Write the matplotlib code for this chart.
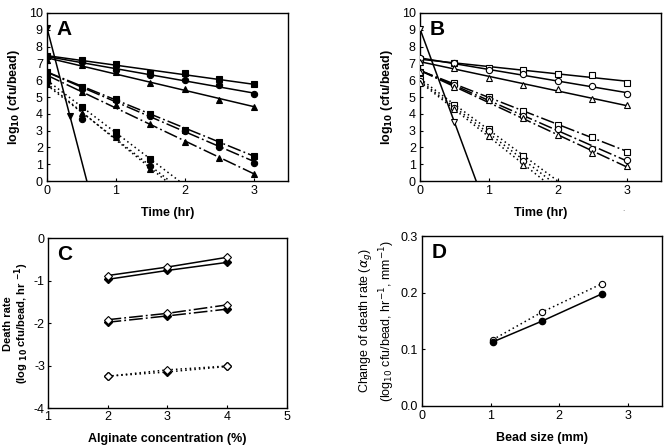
import numpy as np
import matplotlib
matplotlib.use("Agg")
import matplotlib.pyplot as plt

plt.rcParams["font.family"] = ["Liberation Sans", "DejaVu Sans"]
plt.rcParams["font.size"] = 9
plt.rcParams["axes.unicode_minus"] = False

t = [0, 0.5, 1, 1.5, 2, 2.5, 3]
t_short = [0, 0.5, 1, 1.5]

# panel A (filled markers)
a_solid = {"s": [7.45, 7.2, 6.95, 6.45, 6.4, 6.05, 5.75],
           "o": [7.4, 7.1, 6.6, 6.3, 6.0, 5.7, 5.15],
           "^": [7.2, 6.9, 6.5, 5.85, 5.45, 4.85, 4.4]}
a_dash = {"s": [6.5, 5.6, 4.9, 4.0, 3.05, 2.35, 1.5],
          "o": [6.4, 5.5, 4.85, 3.9, 3.0, 2.0, 1.1],
          "^": [6.2, 5.3, 4.5, 3.4, 2.35, 1.4, 0.4]}
a_dot = {"s": [6.0, 4.4, 2.9, 1.3],
         "o": [5.9, 3.7, 2.7, 0.9],
         "^": [5.8, 4.05, 2.6, 0.7]}
a_inv_t = [0, 0.33]
a_inv = [9.1, 3.9]

# panel B (open markers)
b_solid = {"s": [7.25, 7.05, 6.75, 6.6, 6.35, 6.3, 5.85],
           "o": [7.3, 7.0, 6.6, 6.35, 5.95, 5.65, 5.2],
           "^": [7.1, 6.75, 6.15, 5.7, 5.45, 4.9, 4.5]}
b_dash = {"s": [6.5, 5.85, 5.0, 4.15, 3.35, 2.6, 1.75],
          "o": [6.5, 5.7, 4.9, 3.9, 3.1, 1.9, 1.25],
          "^": [6.5, 5.6, 4.8, 3.75, 2.75, 1.65, 0.9]}
b_dot = {"s": [6.1, 4.5, 3.1, 1.5],
         "o": [5.95, 4.35, 2.95, 1.2],
         "^": [5.85, 4.3, 2.7, 0.95]}
b_inv_t = [0, 0.5]
b_inv = [9.05, 3.5]

# panel C
alg = [2, 3, 4]
c_open = {"solid": [-0.88, -0.68, -0.45], "dash": [-1.92, -1.77, -1.57], "dot": [-3.25, -3.1, -3.01]}
c_fill = {"solid": [-0.97, -0.76, -0.57], "dash": [-1.98, -1.83, -1.67], "dot": [-3.25, -3.15, -3.02]}

# panel D
bead = [1.03, 1.75, 2.62]
d_fill = [0.113, 0.150, 0.198]
d_open = [0.117, 0.166, 0.216]

DASH = (0, (9, 2, 1.2, 2))
DOT = (0, (1, 2))
LW = 1.1
MS = 4.5


def style(ax, pad=3):
    for s in ax.spines.values():
        s.set_linewidth(1.0)
    ax.tick_params(direction="in", length=2.5, width=0.8, pad=pad)


def fit_line(ax, x, y, ls, x0, x1, stop_zero=False):
    k, b = np.polyfit(x, y, 1)
    if stop_zero:
        x1 = min(x1, -b / k)
    xx = np.array([x0, x1])
    ax.plot(xx, k * xx + b, color="k", ls=ls, lw=LW, zorder=2)


def time_panel(ax, solid, dash, dot, inv_t, inv, face, letter):
    for m in ["s", "o", "^"]:
        fit_line(ax, t, solid[m], "-", 0, 3)
        fit_line(ax, t, dash[m], DASH, 0, 3)
        fit_line(ax, t_short, dot[m], DOT, 0, 3, stop_zero=True)
        for data, xs in [(solid[m], t), (dash[m], t), (dot[m], t_short)]:
            ax.plot(xs, data, ls="none", marker=m, ms=MS, mfc=face, mec="k", mew=0.8, zorder=3)
    fit_line(ax, inv_t, inv, "-", 0, 3, stop_zero=True)
    ax.plot(inv_t, inv, ls="none", marker="v", ms=MS, mfc=face, mec="k", mew=0.8, zorder=3)
    ax.set_xlim(0, 3.5)
    ax.set_ylim(0, 10)
    ax.set_xticks([0, 1, 2, 3])
    ax.set_yticks(range(11))
    ax.set_xlabel("Time (hr)", fontweight="bold", labelpad=7)
    ax.set_ylabel(r"log$_{\mathbf{10}}$ (cfu/bead)", fontweight="bold", labelpad=5)
    ax.text(0.04, 0.96, letter, transform=ax.transAxes, fontsize=15, fontweight="bold", va="top")
    style(ax)


fig = plt.figure(figsize=(6.72, 4.46), dpi=100)
axA = fig.add_axes([0.070, 0.594, 0.359, 0.377])
axB = fig.add_axes([0.625, 0.594, 0.359, 0.377])
axC = fig.add_axes([0.071, 0.085, 0.356, 0.381])
axD = fig.add_axes([0.628, 0.090, 0.357, 0.380])

time_panel(axA, a_solid, a_dash, a_dot, a_inv_t, a_inv, "k", "A")
time_panel(axB, b_solid, b_dash, b_dot, b_inv_t, b_inv, "white", "B")
fig.text(0.926, 0.528, ".", fontsize=6, color="0.4")

for key, ls in [("solid", "-"), ("dash", DASH), ("dot", DOT)]:
    axC.plot(alg, c_fill[key], color="k", ls=ls, lw=LW, marker="D", ms=4, mfc="k", mec="k")
    axC.plot(alg, c_open[key], color="k", ls=ls, lw=LW, marker="D", ms=4.5, mfc="white", mec="k", mew=0.8)
axC.set_xlim(1, 5)
axC.set_ylim(-4, 0)
axC.set_xticks([1, 2, 3, 4, 5])
axC.set_yticks([-4, -3, -2, -1, 0])
axC.set_xlabel("Alginate concentration (%)", fontweight="bold", labelpad=7)
axC.set_ylabel("Death rate\n" + r"(log $_{\mathbf{10}}$ cfu/bead, hr $^{\mathbf{-1}}$)",
               fontweight="bold", fontsize=8, linespacing=1.0)
axC.yaxis.set_label_coords(-0.068, 0.5)
axC.text(0.04, 0.96, "C", transform=axC.transAxes, fontsize=15, fontweight="bold", va="top")
style(axC, pad=2)

axD.plot(bead, d_open, color="k", ls=DOT, lw=LW, marker="o", ms=4.5, mfc="white", mec="k", mew=0.8)
axD.plot(bead, d_fill, color="k", ls="-", lw=LW, marker="o", ms=4.5, mfc="k", mec="k")
axD.set_xlim(0, 3.5)
axD.set_ylim(0, 0.3)
axD.set_xticks([0, 1, 2, 3])
axD.set_yticks([0.0, 0.1, 0.2, 0.3])
axD.set_yticklabels(["0.0", "0.1", "0.2", "0.3"])
axD.set_xlabel("Bead size (mm)", fontweight="bold", labelpad=7)
axD.set_ylabel(r"Change of death rate ($\alpha_g$)" + "\n" +
               r"(log$_{10}$ cfu/bead, hr$^{-1}$, mm$^{-1}$)")
axD.yaxis.set_label_coords(-0.105, 0.5)
axD.text(0.04, 0.96, "D", transform=axD.transAxes, fontsize=15, fontweight="bold", va="top")
style(axD)

fig.savefig("out.png", dpi=100)
